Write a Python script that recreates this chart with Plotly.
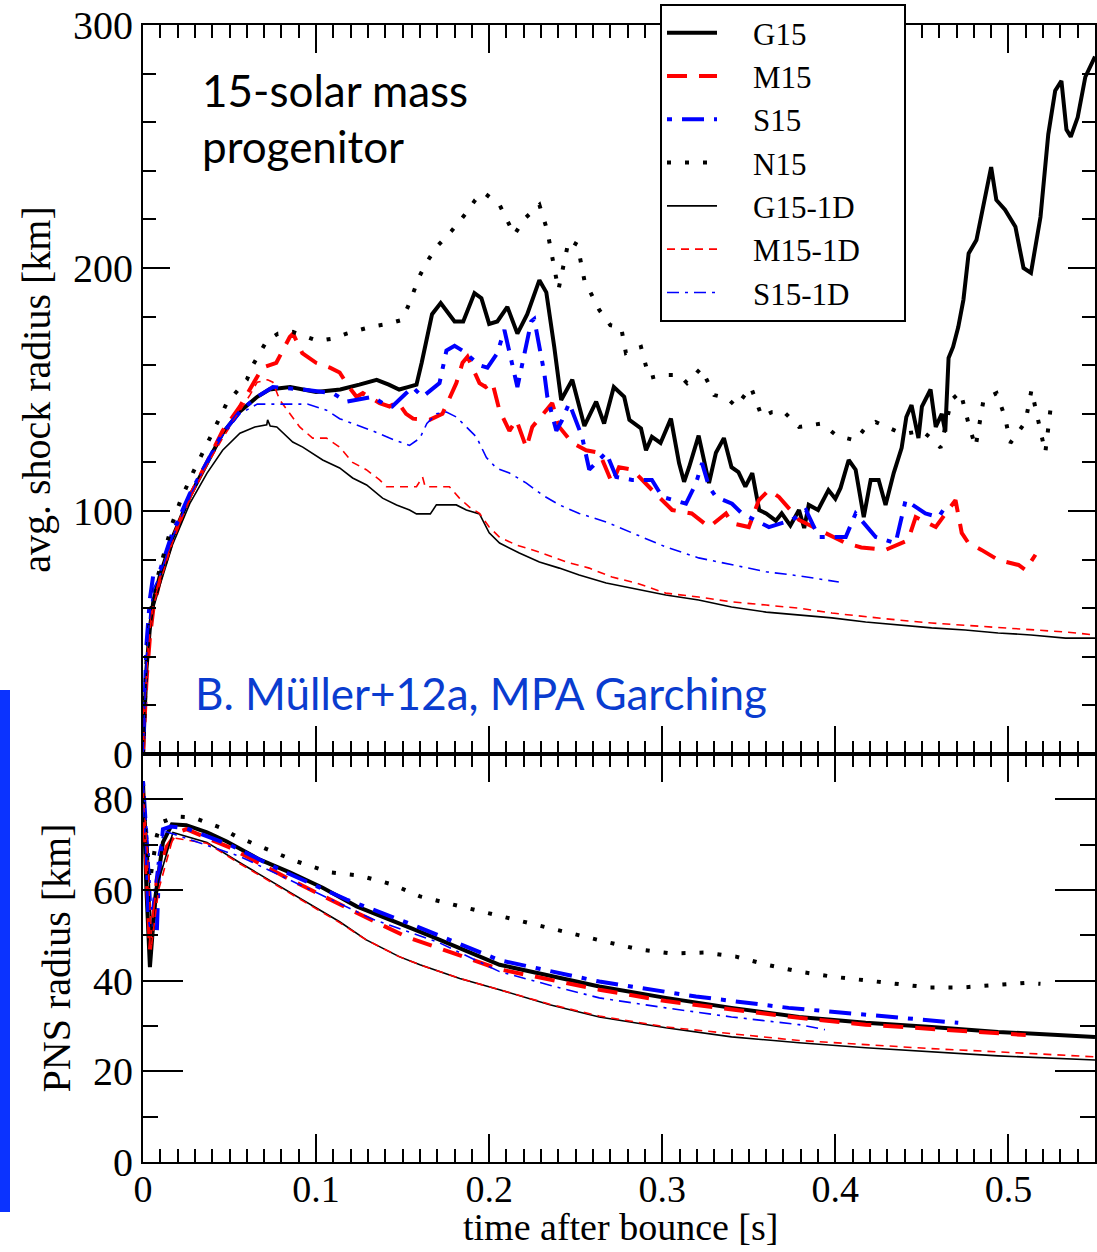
import plotly.graph_objects as go
from plotly.subplots import make_subplots

# ---------------- top panel: average shock radius [km] ----------------
g15_shock_t = [0, 0.002, 0.004, 0.006, 0.010, 0.017, 0.027, 0.037, 0.046, 0.056, 0.066, 0.073, 0.085, 0.100, 0.114, 0.125, 0.135, 0.142, 0.148, 0.153, 0.158, 0.161, 0.164, 0.167, 0.172, 0.176, 0.180, 0.185, 0.1915, 0.1955, 0.200, 0.2047, 0.2105, 0.2163, 0.222, 0.229, 0.233, 0.2376, 0.2416, 0.248, 0.255, 0.2618, 0.2664, 0.272, 0.278, 0.281, 0.2877, 0.2906, 0.294, 0.299, 0.305, 0.3097, 0.3126, 0.3155, 0.321, 0.327, 0.331, 0.3356, 0.340, 0.344, 0.348, 0.352, 0.356, 0.360, 0.3656, 0.369, 0.374, 0.379, 0.382, 0.3846, 0.390, 0.396, 0.400, 0.403, 0.4077, 0.4117, 0.4164, 0.4204, 0.425, 0.429, 0.4337, 0.4383, 0.441, 0.444, 0.448, 0.450, 0.455, 0.458, 0.4615, 0.4635, 0.4654, 0.468, 0.471, 0.474, 0.477, 0.4815, 0.4856, 0.490, 0.493, 0.498, 0.504, 0.5087, 0.513, 0.5185, 0.523, 0.527, 0.5306, 0.5335, 0.536, 0.540, 0.5444, 0.550]
g15_shock_r = [0, 35, 52, 63, 74, 89, 106, 120, 132, 141, 147, 150, 151, 149, 150, 152, 154, 152, 150, 151, 152, 161, 172, 181, 185.6, 182, 178, 178, 189.7, 187.6, 177, 178, 184, 173, 181, 195, 190, 167.5, 145.7, 154, 135, 145, 136, 151, 147, 137.5, 134, 125, 130.5, 128, 138, 119.7, 112, 118, 131, 111.5, 124, 130, 118, 116, 110, 115.6, 100.4, 99, 96, 99, 94, 100.4, 93, 102.5, 100.4, 108.6, 105, 109.5, 121, 117, 97.5, 112.8, 112.8, 102.5, 115.6, 126, 138.7, 143.6, 130, 143, 150, 134.6, 140, 132.7, 163, 167.5, 175.7, 187, 206, 211.5, 226.7, 241.5, 228, 224, 217, 200, 198, 221, 255, 273, 277, 257, 254, 262, 278.6, 287]

m15_shock_t = [0, 0.002, 0.004, 0.006, 0.010, 0.017, 0.027, 0.037, 0.046, 0.056, 0.063, 0.069, 0.077, 0.0848, 0.0867, 0.092, 0.100, 0.108, 0.1136, 0.119, 0.1234, 0.127, 0.1367, 0.1424, 0.147, 0.152, 0.156, 0.1655, 0.173, 0.177, 0.181, 0.1846, 0.1875, 0.1944, 0.198, 0.2018, 0.2059, 0.2117, 0.2157, 0.2215, 0.2249, 0.2364, 0.2405, 0.248, 0.256, 0.2636, 0.271, 0.275, 0.2826, 0.298, 0.3057, 0.317, 0.327, 0.3368, 0.3403, 0.350, 0.3558, 0.3616, 0.3674, 0.379, 0.3945, 0.406, 0.415, 0.429, 0.442, 0.4464, 0.458, 0.4694, 0.473, 0.4769, 0.4844, 0.4942, 0.5058, 0.5098, 0.5156]
m15_shock_r = [0, 30, 48, 60, 72, 88, 106, 120, 133, 143, 152, 159, 161, 171.6, 173, 165, 161, 159, 157, 151, 147, 148.5, 144.4, 143, 145, 140, 138, 137.5, 140, 146, 152.6, 161, 163.5, 152.6, 151, 153, 141.5, 133, 137.5, 126, 134.6, 144.4, 134.6, 128, 125, 124, 111.5, 118, 117, 105.8, 100.4, 99, 93.4, 99, 95, 93.4, 104.5, 108.6, 105.8, 96.3, 91, 86.8, 85, 84, 88, 97.5, 93.4, 104.5, 91, 86.8, 84, 79.8, 77.8, 75.7, 82]

s15_shock_t = [0, 0.002, 0.004, 0.006, 0.010, 0.017, 0.027, 0.037, 0.046, 0.056, 0.066, 0.075, 0.092, 0.1096, 0.1176, 0.1326, 0.1384, 0.144, 0.150, 0.1557, 0.1615, 0.1713, 0.1753, 0.180, 0.1846, 0.1944, 0.199, 0.2047, 0.2088, 0.2163, 0.2243, 0.226, 0.2318, 0.2336, 0.2388, 0.2422, 0.2462, 0.2537, 0.2578, 0.2676, 0.2734, 0.2826, 0.294, 0.300, 0.3137, 0.3195, 0.323, 0.327, 0.331, 0.3403, 0.346, 0.3616, 0.3749, 0.383, 0.3904, 0.406, 0.4117, 0.4233, 0.4348, 0.4406, 0.452, 0.4596, 0.4635]
s15_shock_r = [0, 45, 64, 74, 76, 91, 107, 120, 132, 141, 147, 151, 150, 148.5, 145, 147, 144.4, 143, 147, 151, 147, 152.6, 166, 168, 166, 160, 159, 165, 174.5, 151, 178, 179, 157, 147, 133, 137.5, 144.4, 130.5, 117, 124, 114, 112.8, 112.8, 105.8, 103, 111.5, 119.7, 110, 105.8, 103, 99, 93.4, 96.3, 100.4, 89.3, 89.3, 99, 89.3, 86.8, 104.5, 99, 97.5, 101.6]

n15_shock_t = [0, 0.002, 0.004, 0.006, 0.010, 0.017, 0.022, 0.029, 0.040, 0.0484, 0.060, 0.0634, 0.0715, 0.078, 0.0865, 0.0946, 0.101, 0.110, 0.1176, 0.125, 0.133, 0.1413, 0.1494, 0.153, 0.157, 0.160, 0.164, 0.170, 0.178, 0.186, 0.192, 0.197, 0.206, 0.2145, 0.220, 0.229, 0.2335, 0.2376, 0.240, 0.246, 0.251, 0.255, 0.2636, 0.270, 0.2762, 0.279, 0.2877, 0.2924, 0.300, 0.3097, 0.3143, 0.3224, 0.330, 0.3374, 0.3426, 0.3512, 0.3541, 0.3576, 0.3633, 0.370, 0.379, 0.392, 0.4008, 0.4117, 0.417, 0.4233, 0.4348, 0.442, 0.450, 0.458, 0.4608, 0.467, 0.4723, 0.4769, 0.481, 0.4856, 0.4931, 0.498, 0.5011, 0.5098, 0.5133, 0.519, 0.5213, 0.5248]
n15_shock_r = [0, 38, 55, 66, 77, 95, 105, 116, 132, 144.4, 154, 160, 170, 173, 173.7, 171.6, 170, 171, 173, 174.5, 176, 177, 178.6, 184, 191, 197, 202.5, 209, 215, 222, 228, 231, 226, 213.6, 220, 226, 215.6, 199, 191, 211.5, 209.5, 195, 182.7, 176.5, 175.7, 165, 167.5, 154.7, 156, 156, 152.6, 158.8, 147.7, 146.5, 143, 151, 145, 138.7, 140.7, 141, 134.6, 136, 131, 129, 134, 136.6, 133, 132, 133, 128.4, 126, 145.7, 149, 136, 126.3, 145.7, 148.5, 138.7, 128, 136.6, 149.8, 132, 124, 145]

g15_1d_shock_t = [0, 0.002, 0.004, 0.006, 0.010, 0.017, 0.027, 0.037, 0.046, 0.052, 0.056, 0.0646, 0.0715, 0.072, 0.0735, 0.0773, 0.0865, 0.0923, 0.1038, 0.1136, 0.1211, 0.1292, 0.1384, 0.1465, 0.154, 0.158, 0.166, 0.1695, 0.181, 0.1868, 0.1944, 0.200, 0.206, 0.2174, 0.229, 0.2405, 0.252, 0.2676, 0.2826, 0.302, 0.321, 0.340, 0.360, 0.379, 0.398, 0.4175, 0.4366, 0.4556, 0.475, 0.494, 0.513, 0.533, 0.550]
g15_1d_shock_r = [0, 33, 50, 60, 70, 86, 103, 115.6, 125, 129, 132, 134.6, 135.5, 137.5, 135, 134.6, 128.4, 126.3, 121, 117.7, 113.6, 110.7, 105.3, 102.5, 100.4, 98.8, 98.8, 102.5, 102.5, 100.4, 98.8, 91, 86.8, 82.7, 79, 76.5, 73.7, 70.4, 68.3, 65.4, 63.4, 60.5, 58.4, 57.2, 56, 54.3, 53, 51.9, 51, 49.8, 49, 47.7, 47.7]

m15_1d_shock_t = [0, 0.002, 0.004, 0.006, 0.010, 0.017, 0.027, 0.037, 0.046, 0.056, 0.062, 0.066, 0.072, 0.075, 0.079, 0.0905, 0.098, 0.106, 0.1136, 0.1211, 0.129, 0.1367, 0.1407, 0.158, 0.1615, 0.163, 0.177, 0.1828, 0.1886, 0.1944, 0.200, 0.2059, 0.2157, 0.229, 0.2445, 0.2578, 0.271, 0.2849, 0.302, 0.321, 0.340, 0.360, 0.379, 0.398, 0.4175, 0.4366, 0.4556, 0.475, 0.494, 0.513, 0.533, 0.550]
m15_1d_shock_r = [0, 33, 51, 61, 71, 87, 105, 119, 130, 141, 148, 153, 154, 153, 145.7, 134.6, 130, 130, 126.3, 120, 117, 112.8, 110, 110, 114, 110, 110, 105.3, 101.6, 99, 93.4, 89.3, 86, 83.1, 79, 76.5, 72.8, 70.4, 66.2, 64.6, 62.6, 61.3, 60, 58, 56.4, 55.1, 53.9, 53, 51.9, 51, 50.2, 49]

s15_1d_shock_t = [0, 0.002, 0.004, 0.006, 0.010, 0.017, 0.027, 0.037, 0.046, 0.056, 0.066, 0.095, 0.106, 0.1136, 0.1326, 0.1424, 0.154, 0.160, 0.164, 0.1695, 0.1753, 0.181, 0.1868, 0.1926, 0.1984, 0.2041, 0.2117, 0.2215, 0.2307, 0.2405, 0.252, 0.2676, 0.2826, 0.302, 0.321, 0.340, 0.360, 0.379, 0.402]
s15_1d_shock_r = [0, 40, 58, 68, 74, 89, 106, 120, 131, 140, 144, 144, 141.5, 138, 133, 130, 127, 130, 136, 140, 140.7, 138.7, 134.6, 130.5, 122, 117.7, 115.6, 111.5, 106.6, 102.5, 99, 95.5, 91, 85.2, 80.7, 77.8, 75, 73.3, 70.8]

# ---------------- bottom panel: PNS radius [km] ----------------
g15_pns_t = [0, 0.002, 0.004, 0.007, 0.0115, 0.0167, 0.025, 0.037, 0.0484, 0.0675, 0.0848, 0.1038, 0.1234, 0.1424, 0.167, 0.206, 0.2636, 0.302, 0.340, 0.379, 0.4175, 0.4556, 0.494, 0.550]
g15_pns_r = [84, 60, 43, 58, 70.5, 74.5, 74.3, 72.7, 70.7, 66.7, 63.9, 60.5, 56.4, 53.5, 49.7, 43.5, 38.7, 36.2, 34, 32, 30.7, 29.8, 28.7, 27.6]

m15_pns_t = [0, 0.002, 0.004, 0.008, 0.0138, 0.0196, 0.025, 0.050, 0.085, 0.1234, 0.152, 0.206, 0.2636, 0.302, 0.340, 0.379, 0.4175, 0.4556, 0.510]
m15_pns_r = [82, 62, 46.8, 62.3, 69.6, 72.7, 73.4, 69.4, 62.3, 55, 49.7, 42.5, 38, 35.5, 33.6, 31.8, 30.3, 29.4, 28]

s15_pns_t = [0, 0.002, 0.003, 0.005, 0.008, 0.009, 0.0115, 0.016, 0.025, 0.050, 0.079, 0.1176, 0.158, 0.206, 0.2636, 0.3195, 0.373, 0.429, 0.458, 0.471]
s15_pns_r = [84, 72, 55, 51, 51, 62, 73.4, 74, 73.6, 70, 64.5, 57.9, 52, 44.5, 39.8, 36.5, 34, 32, 31, 30.7]

n15_pns_t = [0, 0.004, 0.008, 0.011, 0.0196, 0.029, 0.0444, 0.054, 0.0715, 0.0888, 0.1078, 0.125, 0.1442, 0.160, 0.179, 0.196, 0.2157, 0.233, 0.250, 0.2693, 0.2866, 0.3057, 0.325, 0.3426, 0.3605, 0.379, 0.398, 0.4175, 0.4366, 0.454, 0.473, 0.4914, 0.510, 0.5185]
n15_pns_r = [80, 62, 72, 75, 76.2, 76, 73.8, 71.8, 69, 66.3, 63.9, 63.2, 61.2, 58.6, 56.8, 55.2, 53.5, 51.7, 50.2, 48.4, 46.9, 46, 46.2, 45.3, 43.5, 42, 40.9, 40, 39.1, 38.5, 38.5, 38.9, 39.5, 39.3]

g15_1d_pns_t = [0, 0.003, 0.005, 0.009, 0.0173, 0.037, 0.056, 0.075, 0.0946, 0.1136, 0.129, 0.148, 0.160, 0.183, 0.206, 0.235, 0.2636, 0.302, 0.340, 0.379, 0.4175, 0.4556, 0.494, 0.550]
g15_1d_pns_r = [84, 68, 48, 62, 72.7, 70.5, 66, 61.7, 57.2, 53, 49, 45.3, 43.5, 40.5, 38, 34.7, 32, 29.6, 27.6, 26.3, 25.2, 24.3, 23.4, 22.5]

m15_1d_pns_t = [0, 0.003, 0.005, 0.009, 0.0173, 0.037, 0.056, 0.075, 0.0946, 0.1136, 0.129, 0.148, 0.160, 0.183, 0.206, 0.235, 0.2636, 0.302, 0.340, 0.379, 0.4175, 0.4556, 0.494, 0.550]
m15_1d_pns_r = [82, 66, 48, 60, 71.5, 70.3, 65.8, 61.5, 57, 52.8, 49, 45.3, 43.5, 40.5, 38, 34.8, 32.2, 29.8, 28.3, 26.8, 25.9, 25, 24.3, 23.2]

s15_1d_pns_t = [0, 0.003, 0.005, 0.009, 0.012, 0.018, 0.056, 0.0946, 0.133, 0.171, 0.206, 0.235, 0.2636, 0.302, 0.340, 0.379, 0.394]
s15_1d_pns_r = [84, 70, 55, 68, 73, 72.3, 67.4, 60.5, 53.5, 48.4, 42, 39, 36.2, 34, 32, 30.3, 29.2]

# ---------------- styles ----------------
series = [
    ("G15", g15_shock_t, g15_shock_r, g15_pns_t, g15_pns_r, "black", 4, "solid"),
    ("M15", m15_shock_t, m15_shock_r, m15_pns_t, m15_pns_r, "#ff0000", 4, "20px,12px"),
    ("S15", s15_shock_t, s15_shock_r, s15_pns_t, s15_pns_r, "#0000ff", 4, "5px,10px,22px,10px"),
    ("N15", n15_shock_t, n15_shock_r, n15_pns_t, n15_pns_r, "black", 4, "4px,14px"),
    ("G15-1D", g15_1d_shock_t, g15_1d_shock_r, g15_1d_pns_t, g15_1d_pns_r, "black", 1.6, "solid"),
    ("M15-1D", m15_1d_shock_t, m15_1d_shock_r, m15_1d_pns_t, m15_1d_pns_r, "#ff0000", 1.6, "8px,6px"),
    ("S15-1D", s15_1d_shock_t, s15_1d_shock_r, s15_1d_pns_t, s15_1d_pns_r, "#0000ff", 1.6, "12px,6px,3px,6px"),
]

NB = "\u00a0"

fig = make_subplots(rows=2, cols=1, shared_xaxes=True, vertical_spacing=0,
                    row_heights=[729, 408])

for name, ts, rs, tp, rp, color, width, dash in series:
    fig.add_trace(go.Scatter(x=ts, y=rs, mode="lines",
                             name=NB * 4 + name + NB * 5,
                             line=dict(color=color, width=width, dash=dash)),
                  row=1, col=1)
    fig.add_trace(go.Scatter(x=tp, y=rp, mode="lines", name=name, showlegend=False,
                             line=dict(color=color, width=width, dash=dash)),
                  row=2, col=1)

SERIF = "Liberation Serif"
tickfont = dict(family=SERIF, size=40, color="black")

common_x = dict(range=[0, 0.55], tick0=0, dtick=0.1, ticks="inside", ticklen=28,
                tickwidth=2, tickcolor="black",
                minor=dict(dtick=0.01, ticks="inside", ticklen=13, tickwidth=2,
                           tickcolor="black", showgrid=False),
                showline=True, linewidth=2, linecolor="black", mirror="allticks",
                showgrid=False, zeroline=False,
                tickfont=dict(family=SERIF, size=38, color="black"),
                automargin=False)

fig.update_xaxes(**common_x)
fig.update_xaxes(showticklabels=False, row=1, col=1)
fig.update_xaxes(showticklabels=True, ticklabelstandoff=-8, row=2, col=1)

fig.update_yaxes(range=[0, 300], tick0=0, dtick=100, ticks="inside", ticklen=27,
                 tickwidth=2, tickcolor="black",
                 minor=dict(dtick=20, ticks="inside", ticklen=13, tickwidth=2,
                            tickcolor="black", showgrid=False),
                 showline=True, linewidth=2, linecolor="black", mirror="allticks",
                 showgrid=False, zeroline=False, tickfont=tickfont, automargin=False,
                 title=dict(text="avg. shock radius [km]",
                            font=dict(family=SERIF, size=40, color="black"),
                            standoff=10),
                 row=1, col=1)
fig.update_yaxes(range=[0, 90], tick0=0, dtick=20, ticks="inside", ticklen=40,
                 tickwidth=2, tickcolor="black",
                 minor=dict(dtick=10, ticks="inside", ticklen=15, tickwidth=2,
                            tickcolor="black", showgrid=False),
                 showline=True, linewidth=2, linecolor="black", mirror="allticks",
                 showgrid=False, zeroline=False, tickfont=tickfont, automargin=False,
                 title=dict(text="PNS radius [km]",
                            font=dict(family=SERIF, size=40, color="black"),
                            standoff=10),
                 row=2, col=1)

W, H = 1097, 1252
L, R, T, B = 143, 2, 25, 90
pw, ph = W - L - R, H - T - B

def px_x(px):
    return (px - L) / pw

def px_y(py):
    return (H - B - py) / ph

fig.update_layout(
    width=W, height=H,
    margin=dict(l=L, r=R, t=T, b=B, autoexpand=False),
    paper_bgcolor="white", plot_bgcolor="white",
    showlegend=True,
    legend=dict(x=px_x(660), y=px_y(4), xanchor="left", yanchor="top",
                bgcolor="white", bordercolor="black", borderwidth=2,
                font=dict(family=SERIF, size=31, color="black"),
                itemwidth=50, tracegroupgap=0),
    annotations=[
        dict(text="time after bounce [s]", xref="paper", yref="paper",
             x=px_x(620), y=px_y(1250), xanchor="center", yanchor="bottom",
             showarrow=False, font=dict(family=SERIF, size=38, color="black")),
        dict(text="15-solar mass", xref="paper", yref="paper",
             x=px_x(200), y=px_y(90), xanchor="left", yanchor="middle",
             showarrow=False, font=dict(family="Lato", size=44, color="black")),
        dict(text="progenitor", xref="paper", yref="paper",
             x=px_x(200), y=px_y(146), xanchor="left", yanchor="middle",
             showarrow=False, font=dict(family="Lato", size=44, color="black")),
        dict(text="B. Müller+12a, MPA Garching", xref="paper", yref="paper",
             x=px_x(481), y=px_y(693), xanchor="center", yanchor="middle",
             showarrow=False, font=dict(family="Lato", size=44, color="#0a3ccf")),
    ],
    shapes=[
        dict(type="rect", xref="paper", yref="paper",
             x0=px_x(0), x1=px_x(10), y0=px_y(1212), y1=px_y(690),
             fillcolor="#0b33ff", line=dict(width=0), layer="above"),
    ],
)

fig.write_html("out.html")
